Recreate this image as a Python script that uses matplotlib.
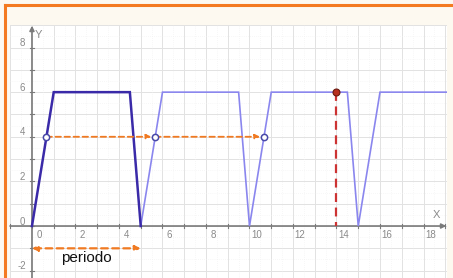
import matplotlib
matplotlib.use("Agg")
import matplotlib.pyplot as plt
from matplotlib.patches import Rectangle
from matplotlib.lines import Line2D

# ---- data ----
first_x = [0, 1, 4.5, 5]
first_y = [0, 6, 6, 0]
rest_x = [5, 6, 9.5, 10, 11, 14.5, 15, 16, 19.5]
rest_y = [0, 6, 6, 0, 6, 6, 0, 6, 6]
circle_x = [0.667, 5.667, 10.667]
circle_y = [4, 4, 4]
red_point = (14, 6)
period_start, period_end, period_y = 0, 5, -1
x_ticks = [0, 2, 4, 6, 8, 10, 12, 14, 16, 18]
y_ticks = [-2, 0, 2, 4, 6, 8]

W, H = 453, 278
fig = plt.figure(figsize=(W / 100, H / 100), dpi=100)
fig.patch.set_facecolor("#fdf9f0")

# orange frame (top and left)
fig.add_artist(Line2D([5 / W, 5 / W], [0, 1 - 5 / H], transform=fig.transFigure,
                      color="#f47a20", lw=2.2))
fig.add_artist(Line2D([5 / W, 1], [1 - 5 / H, 1 - 5 / H], transform=fig.transFigure,
                      color="#f47a20", lw=2.2))

ax = fig.add_axes([10 / W, 0, 437 / W, (H - 25) / H])
ax.set_facecolor("white")
ax.set_xlim(-1.01, 19.08)
ax.set_ylim(-2.33, 9.01)
for s in ax.spines.values():
    s.set_visible(False)
ax.set_xticks([])
ax.set_yticks([])

# grid
gx = range(-1, 20)
gy = range(-2, 10)
for v in gx:
    ax.axvline(v, color="#e2e2e2", lw=0.7, zorder=0)
for v in gy:
    ax.axhline(v, color="#e2e2e2", lw=0.7, zorder=0)
for v in gx:
    ax.axvline(v + 0.5, color="#f0f0f0", lw=0.5, ls=(0, (1, 2)), zorder=0)
for v in gy:
    ax.axhline(v + 0.5, color="#f0f0f0", lw=0.5, ls=(0, (1, 2)), zorder=0)

axis_col = "#7a7a7a"
# axes with arrows
ax.annotate("", xy=(19.05, 0), xytext=(-1.01, 0),
            arrowprops=dict(arrowstyle="-|>", color=axis_col, lw=1.2,
                            mutation_scale=7, shrinkA=0, shrinkB=0), zorder=2)
ax.annotate("", xy=(0, 8.98), xytext=(0, -2.33),
            arrowprops=dict(arrowstyle="-|>", color=axis_col, lw=1.2,
                            mutation_scale=7, shrinkA=0, shrinkB=0), zorder=2)

# ticks
for t in range(-1, 20):
    ax.plot([t, t], [-0.08, 0.08], color=axis_col, lw=0.8, zorder=2)
for t in range(-2, 9):
    ax.plot([-0.1, 0.1], [t, t], color=axis_col, lw=0.8, zorder=2)

tfont = dict(family="Liberation Sans", size=7, color="#8a8a8a")
for t in x_ticks:
    ax.text(t + 0.33, -0.42, str(t), ha="center", va="center", **tfont)
for t in y_ticks:
    ax.text(-0.45, t + 0.2, str(t), ha="center", va="center", **tfont)
ax.text(18.6, 0.48, "X", ha="center", va="center", family="Liberation Sans",
        size=8, color="#8a8a8a")
ax.text(0.32, 8.55, "Y", ha="center", va="center", family="Liberation Sans",
        size=8, color="#8a8a8a")

# curves
ax.plot(rest_x, rest_y, color="#8a86ee", lw=1.2, zorder=3, solid_joinstyle="miter")
ax.plot(first_x, first_y, color="#3a2aa8", lw=1.8, zorder=4, solid_joinstyle="miter")

# orange dashed arrows at y=4
orange = "#f07a22"
for a, b in zip(circle_x[:-1], circle_x[1:]):
    ax.annotate("", xy=(b - 0.05, 4), xytext=(a, 4),
                arrowprops=dict(arrowstyle="-|>", color=orange, lw=1.3,
                                ls=(0, (3, 2)), mutation_scale=7,
                                shrinkA=0, shrinkB=2), zorder=5)

# period arrow
ax.annotate("", xy=(period_end, period_y), xytext=(period_start, period_y),
            arrowprops=dict(arrowstyle="<|-|>", color=orange, lw=1.6,
                            ls=(0, (3, 2)), mutation_scale=8,
                            shrinkA=0, shrinkB=0), zorder=5)
ax.text(2.5, -1.45, "periodo", ha="center", va="center",
        family="Liberation Sans", size=11, color="#111111")

# red dashed line
ax.plot([red_point[0], red_point[0]], [red_point[1], 0], color="#cc3333",
        lw=1.6, ls=(0, (4, 2.5)), zorder=5)
ax.plot([red_point[0]], [red_point[1]], "o", ms=5, color="#b83020",
        mec="#6a1a10", mew=0.8, zorder=6)

# open circles
ax.plot(circle_x, circle_y, "o", ms=4.5, mfc="white", mec="#4848a8", mew=1.1,
        zorder=6)

fig.savefig("out.png", dpi=100, facecolor=fig.get_facecolor())
